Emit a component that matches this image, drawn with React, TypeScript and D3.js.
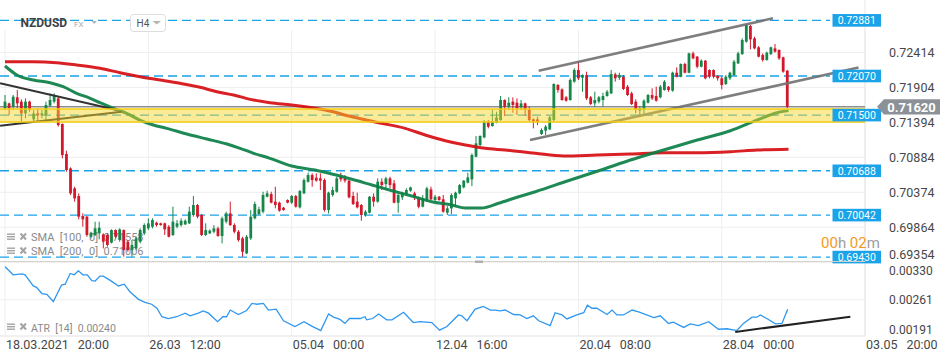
import React from 'react'
import * as d3 from 'd3'

const W = 950
const H = 361

// H4 candles, [open, high, low, close]
const ohlc: [number, number, number, number][] = [
  [0.71598, 0.71793, 0.71574, 0.71696], [0.71671, 0.71681, 0.71501, 0.71598], [0.71623, 0.71793, 0.71574, 0.71768],
  [0.71759, 0.71866, 0.71598, 0.71671], [0.71696, 0.7173, 0.71404, 0.71525], [0.71525, 0.71744, 0.71453, 0.71696],
  [0.71696, 0.7171, 0.7155, 0.71574], [0.71438, 0.71574, 0.71404, 0.71525], [0.71525, 0.71598, 0.71404, 0.71496],
  [0.71496, 0.71574, 0.71453, 0.71525], [0.71501, 0.71696, 0.71404, 0.71647], [0.71637, 0.71817, 0.71623, 0.7172],
  [0.71696, 0.71817, 0.71671, 0.71778], [0.71744, 0.71759, 0.71331, 0.71355], [0.7137, 0.7138, 0.70869, 0.70918],
  [0.70933, 0.70981, 0.70675, 0.70699], [0.70723, 0.70738, 0.70335, 0.70359], [0.70432, 0.70456, 0.70238, 0.70286],
  [0.7032, 0.70359, 0.6998, 0.70019], [0.70029, 0.70067, 0.69873, 0.6998], [0.70019, 0.70029, 0.69727, 0.69752],
  [0.69727, 0.698, 0.69703, 0.69786], [0.69752, 0.69946, 0.69737, 0.69849], [0.69776, 0.69946, 0.69688, 0.69858],
  [0.69761, 0.69776, 0.69557, 0.69654], [0.69752, 0.69776, 0.69581, 0.69606], [0.6964, 0.69834, 0.6963, 0.69824],
  [0.69824, 0.69834, 0.69703, 0.69727], [0.69679, 0.69849, 0.69654, 0.69834], [0.69824, 0.69834, 0.69436, 0.69533],
  [0.69654, 0.69679, 0.69508, 0.69533], [0.69533, 0.69679, 0.69436, 0.69606], [0.69557, 0.69727, 0.69533, 0.69703],
  [0.69654, 0.69849, 0.6963, 0.69824], [0.69776, 0.69922, 0.69752, 0.69897], [0.69849, 0.69995, 0.69824, 0.69922],
  [0.69873, 0.69995, 0.69849, 0.6997], [0.69931, 0.69946, 0.69873, 0.69897], [0.69922, 0.69931, 0.69887, 0.69897],
  [0.69922, 0.69931, 0.69752, 0.69834], [0.69873, 0.69897, 0.69717, 0.69727], [0.69752, 0.70165, 0.69737, 0.69946],
  [0.69873, 0.6997, 0.69849, 0.69922], [0.69897, 0.69995, 0.69873, 0.6996], [0.69907, 0.6998, 0.69897, 0.6996],
  [0.69922, 0.70165, 0.69912, 0.70092], [0.70043, 0.7032, 0.70019, 0.70189], [0.70189, 0.70204, 0.69995, 0.70019],
  [0.70043, 0.70058, 0.69737, 0.69752], [0.69752, 0.69922, 0.69737, 0.69824], [0.69776, 0.69834, 0.69766, 0.69815],
  [0.698, 0.69897, 0.69776, 0.69849], [0.69849, 0.69873, 0.69727, 0.69737], [0.69737, 0.70019, 0.6963, 0.69995],
  [0.69946, 0.70092, 0.69922, 0.70067], [0.70067, 0.70238, 0.69883, 0.69897], [0.69897, 0.69922, 0.69776, 0.698],
  [0.698, 0.69824, 0.69654, 0.69679], [0.69703, 0.69727, 0.69436, 0.69508], [0.69484, 0.69752, 0.69474, 0.69727],
  [0.69703, 0.70116, 0.69679, 0.70019], [0.69995, 0.70238, 0.6998, 0.70203], [0.70058, 0.70165, 0.70043, 0.70126],
  [0.70092, 0.70383, 0.70067, 0.70335], [0.7031, 0.70398, 0.70301, 0.70359], [0.70349, 0.70383, 0.70213, 0.70223],
  [0.70238, 0.70456, 0.7014, 0.70189], [0.70223, 0.70238, 0.70092, 0.70106], [0.7015, 0.7016, 0.70106, 0.70116],
  [0.70262, 0.70272, 0.70213, 0.70223], [0.70223, 0.70335, 0.70203, 0.7032], [0.7032, 0.70335, 0.7015, 0.70165],
  [0.70155, 0.70408, 0.7014, 0.70393], [0.70359, 0.70578, 0.70349, 0.70553], [0.70529, 0.7066, 0.70515, 0.70626],
  [0.70626, 0.70651, 0.70456, 0.70553], [0.70587, 0.70651, 0.70529, 0.70544], [0.70578, 0.70651, 0.70408, 0.70544],
  [0.70553, 0.70578, 0.70092, 0.70116], [0.70116, 0.70383, 0.70067, 0.70369], [0.70335, 0.70456, 0.7031, 0.70408],
  [0.70383, 0.70602, 0.70369, 0.70578], [0.70612, 0.7066, 0.70529, 0.70563], [0.70578, 0.70626, 0.70515, 0.70544],
  [0.70544, 0.70553, 0.70286, 0.70301], [0.7032, 0.70383, 0.70189, 0.70203], [0.70238, 0.70369, 0.7014, 0.70155],
  [0.70189, 0.70204, 0.6996, 0.70043], [0.70043, 0.70116, 0.70019, 0.70092], [0.70077, 0.7032, 0.70067, 0.7031],
  [0.7031, 0.70359, 0.70165, 0.70238], [0.70238, 0.70578, 0.70223, 0.70529], [0.70529, 0.70578, 0.70408, 0.7048],
  [0.70495, 0.70602, 0.70408, 0.70578], [0.70578, 0.70602, 0.70432, 0.7048], [0.70505, 0.70553, 0.70213, 0.70223],
  [0.70223, 0.70359, 0.70077, 0.70335], [0.70301, 0.70383, 0.70262, 0.70359], [0.70349, 0.70432, 0.70335, 0.70408],
  [0.70398, 0.70456, 0.70383, 0.70446], [0.70359, 0.70383, 0.70262, 0.70301], [0.70286, 0.7031, 0.7014, 0.70165],
  [0.70165, 0.70335, 0.70155, 0.70286], [0.70262, 0.70456, 0.70238, 0.70432], [0.70417, 0.70456, 0.70262, 0.70272],
  [0.70262, 0.70335, 0.70238, 0.7031], [0.7031, 0.7032, 0.70252, 0.70262], [0.70272, 0.70335, 0.70077, 0.70092],
  [0.70077, 0.70174, 0.70043, 0.7014], [0.7014, 0.70359, 0.70058, 0.70335], [0.70286, 0.70383, 0.70165, 0.70369],
  [0.70359, 0.70495, 0.70349, 0.7048], [0.70446, 0.70553, 0.70432, 0.70544], [0.70515, 0.7066, 0.70505, 0.70592],
  [0.70563, 0.70942, 0.70466, 0.70918], [0.70894, 0.71195, 0.70884, 0.71088], [0.71064, 0.71205, 0.71049, 0.71195],
  [0.71175, 0.71428, 0.71161, 0.71404], [0.71404, 0.71428, 0.71307, 0.71331], [0.71341, 0.71574, 0.71331, 0.71404],
  [0.71389, 0.7155, 0.7138, 0.71467], [0.71428, 0.71778, 0.71418, 0.7172], [0.7172, 0.7173, 0.71487, 0.71623],
  [0.71623, 0.71759, 0.71574, 0.71681], [0.71696, 0.71759, 0.71535, 0.71647], [0.71681, 0.71744, 0.71501, 0.71598],
  [0.71613, 0.7172, 0.71574, 0.71671], [0.71671, 0.71681, 0.71487, 0.71574], [0.71584, 0.71623, 0.71404, 0.71428],
  [0.71438, 0.71453, 0.71307, 0.71404], [0.71438, 0.71477, 0.71355, 0.71404], [0.71224, 0.71307, 0.7121, 0.71282],
  [0.71273, 0.71355, 0.7121, 0.71331], [0.71292, 0.71487, 0.71282, 0.71467], [0.71428, 0.71963, 0.71404, 0.71953],
  [0.71939, 0.71953, 0.71827, 0.71866], [0.71875, 0.7189, 0.7171, 0.7172], [0.71759, 0.71778, 0.71696, 0.7171],
  [0.7172, 0.72036, 0.7171, 0.72011], [0.71987, 0.72182, 0.71973, 0.72157], [0.72157, 0.72279, 0.72011, 0.72036],
  [0.72045, 0.72094, 0.71841, 0.72084], [0.72084, 0.72133, 0.7172, 0.71744], [0.71759, 0.71778, 0.71647, 0.71662],
  [0.71671, 0.71841, 0.71623, 0.7172], [0.71696, 0.71778, 0.71671, 0.71759], [0.7172, 0.71827, 0.71623, 0.71778],
  [0.71778, 0.71866, 0.71768, 0.71841], [0.71817, 0.72157, 0.71807, 0.72099], [0.72094, 0.72118, 0.71987, 0.72036],
  [0.72045, 0.72118, 0.72011, 0.72084], [0.7206, 0.72084, 0.71866, 0.7188], [0.71914, 0.71939, 0.71778, 0.71793],
  [0.71817, 0.71841, 0.71647, 0.71662], [0.71696, 0.7173, 0.71525, 0.71584], [0.71565, 0.71632, 0.71477, 0.71598],
  [0.71584, 0.7173, 0.71516, 0.7171], [0.71681, 0.71807, 0.71671, 0.71793], [0.71793, 0.7189, 0.7172, 0.71744],
  [0.71778, 0.71914, 0.71696, 0.7171], [0.71759, 0.71939, 0.71744, 0.71914], [0.71866, 0.72011, 0.71856, 0.71987],
  [0.71914, 0.71924, 0.71841, 0.71866], [0.71856, 0.72133, 0.71841, 0.72118], [0.72118, 0.72196, 0.7205, 0.7206],
  [0.7206, 0.72254, 0.7205, 0.72245], [0.72245, 0.72264, 0.72109, 0.72118], [0.72118, 0.7241, 0.72109, 0.724],
  [0.724, 0.72425, 0.72313, 0.72327], [0.72352, 0.72361, 0.72182, 0.72206], [0.72206, 0.72313, 0.72196, 0.72293],
  [0.72293, 0.72303, 0.72021, 0.72036], [0.72157, 0.72167, 0.72036, 0.7206], [0.72157, 0.72167, 0.72036, 0.7206],
  [0.7207, 0.72084, 0.72002, 0.72036], [0.72036, 0.7206, 0.71875, 0.71939], [0.71953, 0.72084, 0.71939, 0.7206],
  [0.72036, 0.72133, 0.72011, 0.72118], [0.72084, 0.72303, 0.7207, 0.72279], [0.72254, 0.72425, 0.72245, 0.724],
  [0.7239, 0.72619, 0.72376, 0.72595], [0.7257, 0.72828, 0.72556, 0.72813], [0.72799, 0.72813, 0.72459, 0.72604],
  [0.72619, 0.72643, 0.72459, 0.72473], [0.72488, 0.72507, 0.72342, 0.72352], [0.72376, 0.724, 0.72279, 0.72303],
  [0.72303, 0.72425, 0.72293, 0.7241], [0.7239, 0.72498, 0.72376, 0.72488], [0.72473, 0.72536, 0.7241, 0.72425],
  [0.72449, 0.72459, 0.72303, 0.72327], [0.72342, 0.72352, 0.72118, 0.72133], [0.72148, 0.72157, 0.716, 0.7162],
]

// moving averages, [bar, value]
const sma100: [number, number][] = [
  [0, 0.72216], [2.9, 0.72085], [6.9, 0.72012], [11, 0.71972], [14.2, 0.71914], [17.5, 0.71818],
  [20.8, 0.71745], [23.2, 0.71681], [26.5, 0.71599], [29.7, 0.71526], [32.9, 0.71428], [36.2, 0.71356],
  [39.5, 0.71307], [44.4, 0.71224], [49.3, 0.71151], [54.2, 0.71078], [57.4, 0.71016], [60.7, 0.70943],
  [64.7, 0.7087], [70, 0.70758], [75.7, 0.70699], [79.8, 0.70641], [84.7, 0.70564], [89.6, 0.70481],
  [94.5, 0.70398], [99.3, 0.7032], [104.2, 0.70237], [109.1, 0.70189], [112.4, 0.70145], [116.4, 0.70145],
  [120.5, 0.70214], [125.4, 0.7031], [129.5, 0.70383], [137.3, 0.70539], [146.1, 0.7071], [152.7, 0.70845],
  [160.8, 0.70991], [169, 0.71137], [177.1, 0.71272], [183.6, 0.71428], [188.5, 0.71535], [191.3, 0.71565],
]
const sma200: [number, number][] = [
  [0, 0.72278], [6.8, 0.72278], [12.6, 0.72264], [17.5, 0.7223], [23.2, 0.72182], [28.1, 0.72118],
  [33, 0.7206], [37.9, 0.72012], [42.7, 0.71963], [47.6, 0.71905], [51.7, 0.71841], [55.8, 0.71793],
  [60.7, 0.7172], [64.7, 0.71681], [70, 0.71647], [78.2, 0.71574], [84.7, 0.71477], [91.2, 0.71389],
  [97.7, 0.71307], [102.6, 0.7121], [107.5, 0.71127], [112.4, 0.71064], [117.2, 0.71016], [122.1, 0.70991],
  [129.5, 0.70943], [136.4, 0.70904], [144.5, 0.70918], [152.7, 0.70933], [160.8, 0.70952], [168.9, 0.70952],
  [177.1, 0.70966], [183.6, 0.70991], [191.3, 0.71003],
]

// ATR(14), [bar, value]
const atr: [number, number][] = [
  [0, 0.00335], [2, 0.00317], [4.1, 0.00319], [4.9, 0.00317], [6.9, 0.00292], [7.7, 0.00289], [9, 0.00275],
  [10.2, 0.00273], [11.8, 0.00257], [13.8, 0.00294], [14.7, 0.00296], [15.9, 0.0032], [16.9, 0.00317],
  [17.9, 0.00326], [19, 0.00317], [20.1, 0.00317], [21.2, 0.00304], [22, 0.00303], [23.2, 0.00314],
  [24, 0.00314], [25.6, 0.00305], [27.7, 0.00292], [29.1, 0.00296], [30.5, 0.00279], [32.6, 0.00262],
  [34.2, 0.00255], [35.8, 0.00251], [37.1, 0.00242], [38.3, 0.00223], [39.9, 0.00219], [41.9, 0.00223],
  [44, 0.00231], [45.2, 0.00225], [47.2, 0.00231], [48.4, 0.00236], [49.7, 0.00231], [51.9, 0.00212],
  [53.2, 0.00223], [54.1, 0.00223], [55, 0.00238], [57, 0.00228], [59, 0.00237], [60.3, 0.00253],
  [61.5, 0.00251], [63.1, 0.00253], [64.3, 0.00238], [66.2, 0.0024], [68, 0.00214], [70.8, 0.00201],
  [73, 0.00212], [74.9, 0.00202], [77.1, 0.00192], [79, 0.00229], [80.2, 0.00222], [81.8, 0.00217],
  [83, 0.00208], [84.1, 0.00219], [86.7, 0.00219], [87.9, 0.00223], [88.3, 0.00216], [89.8, 0.00219],
  [91.2, 0.00229], [93.2, 0.00216], [94.5, 0.00216], [97.3, 0.00233], [99.7, 0.0021], [101.4, 0.00212],
  [104.2, 0.0021], [106.1, 0.00193], [107.9, 0.00201], [110.7, 0.00227], [111.5, 0.00225], [112.8, 0.00214],
  [114.8, 0.0024], [116.8, 0.00246], [118.5, 0.00238], [119.7, 0.00238], [120.9, 0.00236], [122.1, 0.00238],
  [124.2, 0.00228], [125.8, 0.00227], [127.4, 0.00219], [129, 0.00225], [130.3, 0.00214], [133.1, 0.00203],
  [134.3, 0.00232], [136, 0.00227], [137.2, 0.00218], [139.6, 0.00227], [141.3, 0.00232], [142.2, 0.00249],
  [143.3, 0.00242], [144.5, 0.00242], [147, 0.00228], [148.2, 0.00238], [149.4, 0.00227], [151, 0.00227],
  [153.1, 0.00238], [154.7, 0.00234], [158.4, 0.00221], [160, 0.00225], [162, 0.00208], [163.2, 0.00211],
  [165.7, 0.00199], [167.3, 0.00207], [169.3, 0.00203], [171.8, 0.00212], [174.2, 0.00195], [176.3, 0.00196],
  [178.7, 0.00192], [180.3, 0.00208], [182.4, 0.00222], [183.6, 0.00222], [184.4, 0.00227], [186, 0.00219],
  [188.1, 0.00207], [189.7, 0.00208], [191.1, 0.0024],
]

const priceTicks = [0.72414, 0.71904, 0.71394, 0.70884, 0.70374, 0.69864, 0.69354]
const atrTicks = [0.0033, 0.00261, 0.00191]
const levels = [0.72881, 0.7207, 0.715, 0.70688, 0.70042, 0.6943]
const zone = [0.714, 0.7159]
const lastPrice = 0.7162
const timeTicks = [
  { bar: 0, date: '18.03.2021', time: '20:00' },
  { bar: 35, date: '26.03', time: '12:00' },
  { bar: 70, date: '05.04', time: '00:00' },
  { bar: 105, date: '12.04', time: '16:00' },
  { bar: 140, date: '20.04', time: '08:00' },
  { bar: 175, date: '28.04', time: '00:00' },
  { bar: 210, date: '03.05', time: '20:00' },
]
// drawn trend lines, [bar, value]
const channelUp: [number, number][] = [[130.3, 0.72147], [187.5, 0.72911]]
const channelDown: [number, number][] = [[128.2, 0.71137], [208.4, 0.72194]]
const wedgeTop: [number, number][] = [[-1.2, 0.71963], [27.3, 0.71574]]
const wedgeBottom: [number, number][] = [[-1.2, 0.71345], [28.5, 0.71549]]
const atrTrend: [number, number][] = [[178.3, 0.00189], [206.4, 0.00223]]

const GREEN = '#17864a'
const RED = '#d2192c'
const BLUE = '#1aa3e8'
const FONT = 'Roboto, "Noto Sans", sans-serif'

const plotRight = 865
const mainBottom = 261.5
const atrTop = 262
const atrBottom = 336

function Icons({ y }: { y: number }) {
  return (
    <g fill="#a3a3a3" stroke="#a3a3a3">
      <rect x={7} y={y - 7.5} width={8} height={1.4} stroke="none" />
      <rect x={7} y={y - 5} width={8} height={1.4} stroke="none" />
      <rect x={7} y={y - 2.5} width={8} height={1.4} stroke="none" />
      <line x1={20.5} y1={y - 7.5} x2={26} y2={y - 1.5} strokeWidth={2} />
      <line x1={26} y1={y - 7.5} x2={20.5} y2={y - 1.5} strokeWidth={2} />
    </g>
  )
}

export default function App() {
  const x = d3.scaleLinear().domain([0, 210]).range([5, 865.1])
  const y = d3.scaleLinear().domain([0.69354, 0.72414]).range([262.3, 52.4])
  const ya = d3.scaleLinear().domain([0.00191, 0.0033]).range([331, 269])

  const mainLine = d3.line<[number, number]>().x(d => x(d[0])).y(d => y(d[1])).curve(d3.curveMonotoneX)
  const straight = d3.line<[number, number]>().x(d => x(d[0])).y(d => y(d[1]))
  const atrLine = d3.line<[number, number]>().x(d => x(d[0])).y(d => ya(d[1]))

  const bodyW = 2.8
  const yLast = y(lastPrice)

  return (
    <div>
      <style>{'body{margin:0}'}</style>
      <svg width={W} height={H} style={{ display: 'block', fontFamily: FONT }}>
        <defs>
          <clipPath id="mainClip"><rect x={0} y={0} width={plotRight} height={mainBottom} /></clipPath>
          <clipPath id="atrClip"><rect x={0} y={atrTop} width={plotRight} height={atrBottom - atrTop} /></clipPath>
          <clipPath id="axisClip"><rect x={plotRight} y={0} width={W - plotRight} height={mainBottom} /></clipPath>
        </defs>
        <rect width={W} height={H} fill="#fff" />

        {/* grid */}
        {priceTicks.map(t => (
          <line key={t} x1={0} x2={plotRight} y1={y(t)} y2={y(t)} stroke="#eeeeee" />
        ))}
        <line x1={0} x2={plotRight} y1={ya(0.00261)} y2={ya(0.00261)} stroke="#eeeeee" />
        {timeTicks.map(t => (
          <line key={t.bar} x1={x(t.bar)} x2={x(t.bar)} y1={30} y2={atrBottom} stroke="#eeeeee" />
        ))}
        <line x1={plotRight} x2={plotRight} y1={0} y2={atrBottom} stroke="#e6e6e6" />

        {/* indicator legend, partly covered by candles */}
        <Icons y={241} />
        <text x={31} y={241} fontSize={11} fill="#8a8a8a" style={{ whiteSpace: 'pre' }}>SMA  [100,  0]  0.71558</text>
        <Icons y={255} />
        <text x={31} y={255} fontSize={11} fill="#8a8a8a" style={{ whiteSpace: 'pre' }}>SMA  [200,  0]  0.71006</text>

        <g clipPath="url(#mainClip)">
          {levels.map(l => (
            <line key={l} x1={0} x2={830} y1={y(l)} y2={y(l)} stroke={BLUE} strokeWidth={1.4} strokeDasharray="9,5" />
          ))}
          <line x1={0} x2={plotRight} y1={yLast} y2={yLast} stroke="#8d8d8d" strokeWidth={1.5} />

          {ohlc.map((c, i) => {
            const [o, h, l, cl] = c
            const up = cl >= o
            const col = up ? GREEN : RED
            const cx = x(i)
            const top = y(Math.max(o, cl))
            const bot = y(Math.min(o, cl))
            return (
              <g key={i}>
                <line x1={cx} x2={cx} y1={y(h)} y2={y(l)} stroke={col} strokeWidth={1} />
                <rect x={cx - bodyW / 2} y={top} width={bodyW} height={Math.max(1, bot - top)} fill={col} />
              </g>
            )
          })}

          <path d={mainLine(sma200) ?? ''} fill="none" stroke="#d50d12" strokeWidth={3} strokeOpacity={0.92} />
          <path d={mainLine(sma100) ?? ''} fill="none" stroke="#0b7f45" strokeWidth={3} strokeOpacity={0.92} />

          <path d={straight(channelUp) ?? ''} stroke="#707070" strokeWidth={2.6} strokeOpacity={0.9} />
          <path d={straight(channelDown) ?? ''} stroke="#707070" strokeWidth={2.6} strokeOpacity={0.9} />
          <path d={straight(wedgeTop) ?? ''} stroke="#333" strokeWidth={2} />
          <path d={straight(wedgeBottom) ?? ''} stroke="#333" strokeWidth={2} />

          <rect x={0} y={y(zone[1])} width={plotRight} height={y(zone[0]) - y(zone[1])} fill="#f7d526" fillOpacity={0.48} />
          <line x1={0} x2={plotRight} y1={y(zone[1])} y2={y(zone[1])} stroke="#f5cc10" strokeWidth={1.5} />
          <line x1={0} x2={plotRight} y1={y(zone[0])} y2={y(zone[0])} stroke="#f5cc10" strokeWidth={1.5} />
        </g>

        {/* level labels */}
        {levels.map(l => (
          <g key={l}>
            <rect x={832.5} y={y(l) - 6.3} width={48.5} height={12.6} fill={BLUE} />
            <text x={856.8} y={y(l)} dy="0.36em" fontSize={10.5} fill="#fff" textAnchor="middle">{l.toFixed(5)}</text>
          </g>
        ))}

        {/* price axis; the lowest label is cut by the pane edge */}
        <g clipPath="url(#axisClip)">
          {priceTicks.map(t => (
            <text key={t} x={889} y={Math.min(y(t), 254.5)} dy="0.36em" fontSize={12.5} fill="#474747">{t.toFixed(5)}</text>
          ))}
        </g>
        <path d={`M877,${yLast} L884,${yLast - 7.6} L940,${yLast - 7.6} L940,${yLast + 7.6} L884,${yLast + 7.6} Z`} fill="#8b9196" />
        <text x={911.5} y={yLast} dy="0.36em" fontSize={13} fontWeight="bold" fill="#fff" textAnchor="middle">{lastPrice.toFixed(5)}</text>

        <text x={821} y={248} fontSize={15}>
          <tspan fill="#f39a1e">00</tspan><tspan fill="#9e9e9e">h </tspan>
          <tspan fill="#f39a1e">02</tspan><tspan fill="#9e9e9e">m</tspan>
        </text>

        {/* header */}
        <text x={20.5} y={26.5} fontSize={12} fontWeight="bold" fill="#3d4146">NZDUSD</text>
        <text x={74} y={26.5} fontSize={8} fill="#a9a9a9">FX</text>
        <path d="M91.5,21 L97,21 L94.25,24 Z" fill="#b5b5b5" />
        <rect x={130.5} y={14.5} width={35} height={17} rx={3} fill="#fff" stroke="#dcdcdc" />
        <text x={136.5} y={26.5} fontSize={10} fill="#555">H4</text>
        <path d="M152.5,21 L161,21 L156.75,24.5 Z" fill="#b5b5b5" />

        {/* pane separators */}
        <line x1={0} x2={plotRight} y1={mainBottom} y2={mainBottom} stroke="#d2d2d2" />
        <line x1={0} x2={plotRight} y1={atrBottom} y2={atrBottom} stroke="#e2e2e2" />
        <rect x={475} y={260.5} width={8} height={2.5} fill="#b0b0b0" />

        {/* ATR pane */}
        <g clipPath="url(#atrClip)">
          <path d={atrLine(atr) ?? ''} fill="none" stroke="#2f97f0" strokeWidth={1.3} />
          <line x1={x(atrTrend[0][0])} y1={ya(atrTrend[0][1])} x2={x(atrTrend[1][0])} y2={ya(atrTrend[1][1])} stroke="#222" strokeWidth={2} />
        </g>
        <Icons y={331} />
        <text x={31} y={331.5} fontSize={10.5} fill="#8a8a8a" style={{ whiteSpace: 'pre' }}>ATR  [14]  0.00240</text>
        {atrTicks.map(t => (
          <text key={t} x={889} y={Math.max(270.5, Math.min(ya(t), 329.5))} dy="0.36em" fontSize={12} fill="#474747">{t.toFixed(5)}</text>
        ))}

        {/* time axis */}
        {timeTicks.map(t => (
          <text key={t.bar} x={x(t.bar) + 1} y={349} fontSize={12.5} fill="#474747">
            <tspan>{t.date}</tspan>
            <tspan dx={9}>{t.time}</tspan>
          </text>
        ))}
      </svg>
    </div>
  )
}
